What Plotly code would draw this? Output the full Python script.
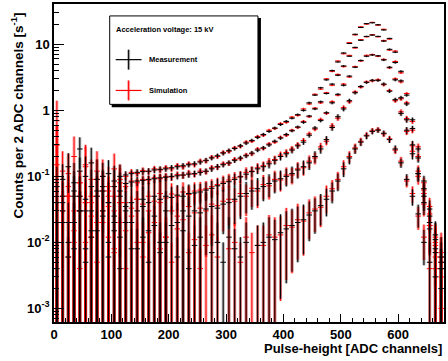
import plotly.graph_objects as go

# ---------------- data ----------------
channels = list(range(5, 680, 10))  # bin centres (ADC channels)

meas_A = [0.07, 0.03, 0.14, 0.05, 0.26, 0.045, 0.16, 0.09, 0.07, 0.11, 0.085, 0.10,
          0.105, 0.11, 0.115, 0.118, 0.12, 0.125, 0.128, 0.13, 0.135, 0.14, 0.145, 0.15, 0.155, 0.165,
          0.175, 0.19, 0.205, 0.225, 0.245, 0.265, 0.29, 0.32, 0.35, 0.39, 0.43, 0.48, 0.54, 0.61,
          0.68, 0.76, 0.86, 1.0, 1.3, 1.7, 2.2, 2.9, 4.0, 5.4, 7.4, 10.3, 14.2, 18.0, 20.6, 21.2,
          19.8, 16.5, 12.3, 7.6, 3.9, 1.7, 0.72, 0.26, 0.085, 0.032, 0.013, 0.006]
sim_A = [0.7, 0.12, 0.05, 0.2, 0.08, 0.15, 0.04, 0.12, 0.1, 0.06, 0.13, 0.09,
         0.1, 0.115, 0.11, 0.122, 0.118, 0.13, 0.125, 0.135, 0.13, 0.145, 0.14, 0.155, 0.15, 0.17,
         0.172, 0.195, 0.2, 0.23, 0.24, 0.27, 0.285, 0.33, 0.34, 0.4, 0.42, 0.5, 0.53, 0.63,
         0.66, 0.79, 0.84, 1.05, 1.25, 1.75, 2.1, 3.0, 3.9, 5.6, 7.2, 10.6, 13.9, 18.4, 20.3, 21.5,
         19.5, 16.9, 12.0, 7.9, 3.7, 1.8, 0.68, 0.28, 0.08, 0.035, 0.012, 0.007]
relerr_A = [1.0, 1.0, 0.6, 1.0, 0.5, 1.0, 0.7, 1.0, 0.8, 0.6, 0.7, 0.5,
            0.14, 0.12, 0.12, 0.12, 0.11, 0.11, 0.11, 0.1, 0.1, 0.1, 0.1, 0.09, 0.09, 0.09, 0.09, 0.08, 0.08, 0.08, 0.08,
            0.07, 0.07, 0.07, 0.06, 0.06, 0.06, 0.05, 0.05, 0.05, 0.05, 0.04, 0.04, 0.04,
            0.04, 0.03, 0.03, 0.03, 0.03, 0.02, 0.02, 0.02, 0.02, 0.02, 0.02, 0.02, 0.02,
            0.02, 0.02, 0.03, 0.04, 0.05, 0.08, 0.12, 0.2, 0.35, 0.6, 1.0]

meas_B = [0.04, 0.09, 0.02, 0.06, 0.12, 0.03, 0.07, 0.05, 0.1, 0.04, 0.07, 0.06,
          0.078, 0.082, 0.085, 0.087, 0.09, 0.092, 0.095, 0.097, 0.1, 0.102, 0.105, 0.108, 0.11, 0.115,
          0.12, 0.13, 0.14, 0.15, 0.16, 0.175, 0.19, 0.205, 0.225, 0.25, 0.27, 0.3, 0.34, 0.38,
          0.43, 0.49, 0.56, 0.66, 0.82, 1.05, 1.35, 1.8, 2.5, 3.4, 4.7, 6.6, 9.0, 11.5, 13.2, 13.8,
          13.2, 11.2, 8.4, 5.3, 2.8, 1.25, 0.53, 0.19, 0.065, 0.025, 0.011, 0.005]
sim_B = [0.3, 0.05, 0.11, 0.03, 0.08, 0.14, 0.05, 0.09, 0.03, 0.07, 0.05, 0.08,
         0.07, 0.085, 0.08, 0.09, 0.088, 0.095, 0.092, 0.1, 0.098, 0.106,
         0.104, 0.112, 0.108, 0.12, 0.118, 0.135, 0.138, 0.155, 0.158, 0.18,
         0.185, 0.21, 0.22, 0.26, 0.265, 0.31, 0.33, 0.39, 0.42, 0.5,
         0.55, 0.68, 0.8, 1.08, 1.3, 1.85, 2.4, 3.5, 4.6, 6.8,
         8.8, 11.8, 13.0, 14.0, 13.0, 11.4, 8.2, 5.5, 2.7, 1.3,
         0.5, 0.2, 0.062, 0.027, 0.01, 0.006]
relerr_B = [1.0, 0.7, 1.0, 1.0, 0.6, 1.0, 0.8, 1.0, 0.6, 1.0, 0.8, 0.9,
            0.18, 0.17, 0.16, 0.15, 0.15, 0.14, 0.14, 0.13, 0.13, 0.12, 0.12, 0.12, 0.11, 0.11, 0.1, 0.1, 0.1, 0.09, 0.09,
            0.09, 0.08, 0.08, 0.08, 0.07, 0.07, 0.07, 0.06, 0.06, 0.06, 0.05, 0.05, 0.05,
            0.04, 0.04, 0.04, 0.03, 0.03, 0.03, 0.03, 0.02, 0.02, 0.02, 0.02, 0.02, 0.02,
            0.03, 0.03, 0.04, 0.05, 0.07, 0.1, 0.15, 0.25, 0.45, 0.8, 1.0]

meas_C = [0.02, 0.05, 0.01, 0.08, 0.03, 0.1, 0.015, 0.06, 0.03, 0.04, 0.02, 0.05,
          0.035, 0.04, 0.03, 0.045, 0.04, 0.05, 0.045, 0.05, 0.048, 0.052,
          0.05, 0.055, 0.056, 0.058, 0.062, 0.066, 0.072, 0.078, 0.083, 0.09,
          0.098, 0.108, 0.118, 0.13, 0.14, 0.155, 0.175, 0.2, 0.22, 0.25,
          0.29, 0.33, 0.42, 0.54, 0.7, 0.92, 1.3, 1.75, 2.4, 3.3,
          4.5, 5.7, 6.6, 6.9, 6.7, 5.8, 4.5, 2.9, 1.55, 0.72,
          0.3, 0.11, 0.04, 0.016, 0.007, 0.004]
sim_C = [0.15, 0.03, 0.07, 0.02, 0.05, 0.04, 0.09, 0.02, 0.06, 0.05, 0.03, 0.04,
         0.04, 0.033, 0.045, 0.038, 0.05, 0.042, 0.055, 0.047, 0.054, 0.05,
         0.058, 0.053, 0.06, 0.062, 0.065, 0.07, 0.075, 0.082, 0.088, 0.095,
         0.1, 0.115, 0.12, 0.135, 0.145, 0.165, 0.18, 0.21, 0.23, 0.26,
         0.3, 0.35, 0.44, 0.52, 0.73, 0.9, 1.35, 1.7, 2.5, 3.2,
         4.6, 5.6, 6.8, 7.0, 6.6, 5.9, 4.4, 3.0, 1.5, 0.75,
         0.29, 0.12, 0.038, 0.018, 0.006, 0.005]
relerr_C = [1.0, 1.0, 1.0, 1.0, 1.0, 1.0, 1.0, 1.0, 1.0, 1.0,
            1.0, 1.0, 1.0, 1.0, 1.0, 1.0, 1.0, 1.0, 1.0, 1.0,
            0.45, 0.42, 0.4, 0.37, 0.35, 0.33, 0.31, 0.29, 0.27, 0.25, 0.24,
            0.22, 0.2, 0.19, 0.18, 0.17, 0.16, 0.15, 0.14, 0.13, 0.12, 0.11, 0.1, 0.09,
            0.08, 0.07, 0.06, 0.05, 0.05, 0.04, 0.04, 0.03, 0.03, 0.03, 0.03, 0.03, 0.03,
            0.04, 0.04, 0.05, 0.07, 0.1, 0.15, 0.22, 0.35, 0.6, 1.0, 1.0]

meas_D = [0.01, 0.04, 0.006, 0.02, 0.05, 0.008, 0.03, 0.015, 0.06, 0.01, 0.025,
          0.012, 0.03, 0.02, 0.008, 0.035, 0.015, 0.025, 0.01, 0.03, 0.018,
          0.02, 0.03, 0.025, 0.03, 0.028, 0.032, 0.035, 0.033, 0.038, 0.04,
          0.045, 0.05, 0.055, 0.06, 0.065, 0.07, 0.078, 0.085, 0.092, 0.1,
          0.11, 0.125, 0.14, 0.16, 0.2, 0.26, 0.36, 0.55, 0.8, 1.05,
          1.4, 1.85, 2.3, 2.65, 2.85, 2.85, 2.5, 1.95, 1.45, 0.9,
          0.5, 0.22, 0.11, 0.05, 0.02, 0.008, 0.004]
sim_D = [0.3, 0.02, 0.05, 0.01, 0.03, 0.04, 0.012, 0.05, 0.02, 0.035, 0.008,
         0.04, 0.015, 0.025, 0.045, 0.01, 0.03, 0.02, 0.04, 0.012, 0.03,
         0.025, 0.022, 0.035, 0.028, 0.033, 0.03, 0.038, 0.036, 0.042, 0.045,
         0.042, 0.055, 0.05, 0.066, 0.06, 0.075, 0.072, 0.09, 0.088, 0.105,
         0.105, 0.13, 0.135, 0.17, 0.19, 0.28, 0.34, 0.58, 0.76, 1.1,
         1.35, 1.9, 2.25, 2.7, 2.8, 2.9, 2.45, 2.0, 1.4, 0.95,
         0.48, 0.24, 0.1, 0.055, 0.018, 0.009, 0.003]
relerr_D = [1.0, 1.0, 1.0, 1.0, 1.0, 1.0, 1.0, 1.0, 1.0, 1.0, 1.0, 1.0, 1.0,
            1.0, 1.0, 1.0, 1.0, 1.0, 1.0, 1.0, 1.0, 1.0, 1.0, 1.0, 1.0, 1.0,
            0.8, 0.75, 0.7, 0.65, 0.6, 0.58, 0.55, 0.5, 0.48, 0.45,
            0.4, 0.38, 0.35, 0.33, 0.3, 0.28, 0.26, 0.24, 0.22, 0.2,
            0.15, 0.13, 0.11, 0.09, 0.08, 0.07, 0.06, 0.05, 0.05, 0.05, 0.05,
            0.06, 0.06, 0.07, 0.09, 0.12, 0.18, 0.25, 0.4, 0.65, 1.0, 1.0]

meas_E = [0.004, 0.02, None, 0.008, 0.03, 0.005, 0.012, None, 0.025, 0.006,
          0.015, 0.004, 0.02, 0.008, None, 0.012, 0.005, 0.018, 0.007, 0.01,
          None, 0.006, 0.015, 0.004, 0.009, 0.012, None, 0.007, 0.01, 0.005,
          0.012, 0.008, 0.006, 0.01, None, 0.009,
          0.01, 0.012, 0.011, 0.014, 0.016, 0.018, 0.02, 0.022, 0.026, 0.03,
          0.036, 0.045, 0.06, 0.085, 0.13, 0.19, 0.26, 0.33, 0.41, 0.48,
          0.5, 0.45, 0.36, 0.26, 0.16, 0.09, 0.05, 0.027, 0.01, 0.005,
          0.003, 0.002]
sim_E = [0.02, None, 0.006, 0.015, 0.004, 0.01, 0.025, 0.005, None, 0.012,
         0.007, 0.02, 0.004, None, 0.01, 0.006, 0.014, None, 0.008, 0.012,
         0.005, 0.016, None, 0.007, 0.011, 0.004, 0.009, 0.013, 0.006, None,
         0.008, 0.01, 0.005, 0.012, 0.007, 0.009,
         0.009, 0.013, 0.012, 0.013, 0.018, 0.017, 0.022, 0.021, 0.028, 0.032,
         0.034, 0.05, 0.065, 0.09, 0.14, 0.2, 0.27, 0.34, 0.42, 0.49,
         0.51, 0.44, 0.37, 0.25, 0.17, 0.085, 0.055, 0.025, 0.012, 0.004,
         0.004, 0.001]
relerr_E = [1.0] * 39 + [0.9, 0.85, 0.8, 0.75, 0.7, 0.6, 0.55, 0.5, 0.45,
                         0.35, 0.3, 0.25, 0.2, 0.16, 0.13, 0.11, 0.1, 0.09,
                         0.1, 0.11, 0.13, 0.16, 0.2, 0.28, 0.38, 0.55, 1.0, 1.0, 1.0]

measurements = [meas_A, meas_B, meas_C, meas_D, meas_E]
simulations = [sim_A, sim_B, sim_C, sim_D, sim_E]
rel_errors = [relerr_A, relerr_B, relerr_C, relerr_D, relerr_E]

x_ticks = [0, 100, 200, 300, 400, 500, 600]
y_ticks = [1e-3, 1e-2, 1e-1, 1, 10]
y_ticklabels = ["10<sup>-3</sup>", "10<sup>-2</sup>", "10<sup>-1</sup>", "1", "10"]

for arr in measurements + simulations + rel_errors:
    if len(arr) != len(channels):
        raise ValueError("length mismatch %d" % len(arr))

# --------------- build -----------------
def build(value_lists):
    xs, ys, up, dn = [], [], [], []
    for vals, rel in zip(value_lists, rel_errors):
        for c, v, r in zip(channels, vals, rel):
            if v is None:
                continue
            xs.append(c)
            ys.append(v)
            up.append(v * r)
            dn.append(min(v * r, v))
    return xs, ys, up, dn

FONT = "Liberation Sans, Arial, Helvetica, sans-serif"
W, H = 448, 361
ML, MR, MT, MB = 54, 2, 2, 39
PW, PH = W - ML - MR, H - MT - MB

def px(xp):
    return (xp - ML) / PW

def py(yp):
    return (H - MB - yp) / PH

fig = go.Figure()
mx, my, mu, md = build(measurements)
sx, sy, su, sd = build(simulations)

def band(x, y, u, d, color):
    return go.Scatter(x=x, y=y, mode="markers", marker=dict(size=1, color="rgba(0,0,0,0)"),
                      error_y=dict(type="data", symmetric=False, array=u, arrayminus=d,
                                   color=color, thickness=3, width=0),
                      showlegend=False, hoverinfo="skip")

def thin(x, y, u, d, color):
    return go.Scatter(x=x, y=y, mode="markers",
                      marker=dict(symbol="line-ew-open", size=4, color=color,
                                  line=dict(width=1, color=color)),
                      error_y=dict(type="data", symmetric=False, array=u, arrayminus=d,
                                   color=color, thickness=1, width=0),
                      showlegend=False)

fig.add_trace(band(mx, my, mu, md, "rgba(0,0,0,0.3)"))
fig.add_trace(band(sx, sy, su, sd, "rgba(255,0,0,0.35)"))
fig.add_trace(thin(sx, sy, su, sd, "rgb(255,0,0)"))
fig.add_trace(thin(mx, my, mu, md, "rgb(0,0,0)"))

# minor tick positions for log axis
minor_y = [m * 10.0 ** e for e in range(-4, 2) for m in range(2, 10)]

fig.update_layout(
    width=W, height=H, autosize=False,
    margin=dict(l=ML, r=MR, t=MT, b=MB),
    paper_bgcolor="white", plot_bgcolor="white",
    font=dict(family=FONT, color="black"),
    xaxis=dict(range=[0, 680], tickmode="array", tickvals=x_ticks,
               ticks="inside", ticklen=8, tickwidth=1, tickcolor="black",
               minor=dict(ticks="inside", ticklen=4, tickwidth=1, dtick=20, tick0=0, tickcolor="black"),
               showline=True, linecolor="black", linewidth=1.5, mirror=True,
               showgrid=False, zeroline=False,
               tickfont=dict(family=FONT, size=13, weight="bold", color="black")),
    yaxis=dict(type="log", range=[-3.206, 1.611], tickmode="array",
               tickvals=y_ticks, ticktext=y_ticklabels,
               ticks="inside", ticklen=10, tickwidth=1, tickcolor="black",
               minor=dict(ticks="inside", ticklen=5, tickwidth=1, tickmode="array",
                          tickvals=minor_y, tickcolor="black"),
               showline=True, linecolor="black", linewidth=1.5, mirror=True,
               showgrid=False, zeroline=False,
               tickfont=dict(family=FONT, size=13, weight="bold", color="black")),
)

shapes = []
# legend shadow and box
shapes.append(dict(type="rect", xref="paper", yref="paper",
                   x0=px(112), x1=px(262), y0=py(106), y1=py(16),
                   fillcolor="black", line=dict(width=0)))
shapes.append(dict(type="rect", xref="paper", yref="paper",
                   x0=px(110), x1=px(259), y0=py(103), y1=py(14),
                   fillcolor="white", line=dict(width=1, color="black")))
# legend crosses
for yc, band_col, col in [(58, "rgba(0,0,0,0.3)", "black"), (89, "rgba(255,0,0,0.35)", "red")]:
    shapes.append(dict(type="line", xref="paper", yref="paper",
                       x0=px(129), x1=px(129), y0=py(yc - 10), y1=py(yc + 10),
                       line=dict(width=3, color=band_col)))
    shapes.append(dict(type="line", xref="paper", yref="paper",
                       x0=px(129), x1=px(129), y0=py(yc - 10), y1=py(yc + 10),
                       line=dict(width=1, color=col)))
    shapes.append(dict(type="line", xref="paper", yref="paper",
                       x0=px(116), x1=px(142), y0=py(yc), y1=py(yc),
                       line=dict(width=1.2, color=col)))
fig.update_layout(shapes=shapes)

annotations = [
    dict(text="<b>Acceleration voltage: 15 kV</b>", x=px(114), y=py(28), xref="paper", yref="paper",
         xanchor="left", yanchor="middle", showarrow=False, font=dict(size=7.5, family=FONT)),
    dict(text="<b>Measurement</b>", x=px(147), y=py(58), xref="paper", yref="paper",
         xanchor="left", yanchor="middle", showarrow=False, font=dict(size=7.5, family=FONT)),
    dict(text="<b>Simulation</b>", x=px(147), y=py(89), xref="paper", yref="paper",
         xanchor="left", yanchor="middle", showarrow=False, font=dict(size=7.5, family=FONT)),
    dict(text="<b>Pulse-height [ADC channels]</b>", x=px(446), y=py(349), xref="paper", yref="paper",
         xanchor="right", yanchor="middle", showarrow=False, font=dict(size=13, family=FONT)),
    dict(text="<b>Counts per 2 ADC channels [s<sup>-1</sup>]</b>", x=px(17), y=py(114),
         xref="paper", yref="paper", xanchor="center", yanchor="middle", textangle=-90,
         showarrow=False, font=dict(size=13.5, family=FONT)),
]
fig.update_layout(annotations=annotations)

fig.write_html("out.html")
